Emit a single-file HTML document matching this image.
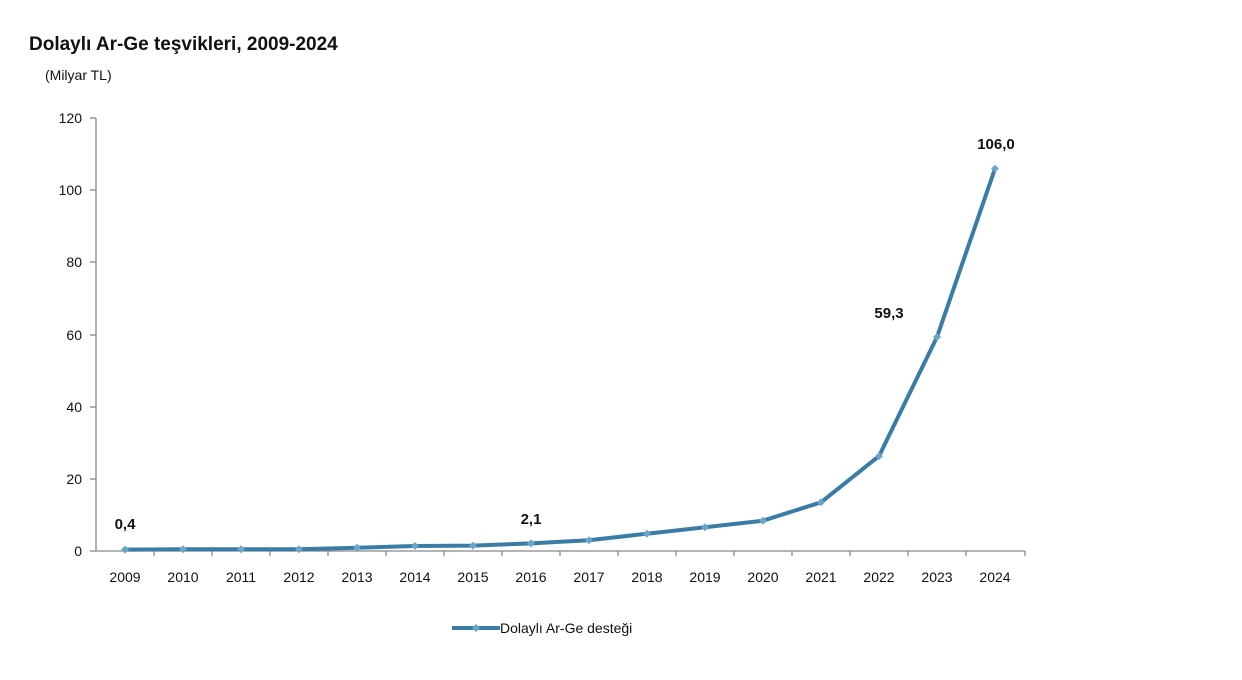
<!DOCTYPE html>
<html><head><meta charset="utf-8"><style>
body{margin:0;background:#fff;}
svg text{font-family:"Liberation Sans",Arial,sans-serif;fill:#111;}
</style></head><body>
<svg width="1242" height="675" viewBox="0 0 1242 675" xmlns="http://www.w3.org/2000/svg">
<rect width="1242" height="675" fill="#fff"/>
<text x="29" y="50" font-size="19" font-weight="bold" fill="#1a1a1a">Dolaylı Ar-Ge teşvikleri, 2009-2024</text>
<text x="45" y="80" font-size="14">(Milyar TL)</text>
<g stroke="#888" stroke-width="1.3" fill="none">
<line x1="96" y1="118" x2="96" y2="551"/>
<line x1="96" y1="551" x2="1025" y2="551"/>
<line x1="90" y1="118" x2="96" y2="118"/><line x1="90" y1="190" x2="96" y2="190"/>
<line x1="90" y1="262" x2="96" y2="262"/><line x1="90" y1="335" x2="96" y2="335"/>
<line x1="90" y1="407" x2="96" y2="407"/><line x1="90" y1="479" x2="96" y2="479"/>
<line x1="90" y1="551" x2="96" y2="551"/>
<path d="M154 551v5M212 551v5M270 551v5M328 551v5M386 551v5M444 551v5M502 551v5M560 551v5M618 551v5M676 551v5M734 551v5M792 551v5M850 551v5M908 551v5M966 551v5M1025 551v5"/>
</g>
<g font-size="14" text-anchor="end">
<text x="82" y="123">120</text><text x="82" y="195">100</text><text x="82" y="267">80</text>
<text x="82" y="340">60</text><text x="82" y="412">40</text><text x="82" y="484">20</text><text x="82" y="556">0</text>
</g>
<g font-size="14" text-anchor="middle">
<text x="125" y="582">2009</text><text x="183" y="582">2010</text><text x="241" y="582">2011</text><text x="299" y="582">2012</text>
<text x="357" y="582">2013</text><text x="415" y="582">2014</text><text x="473" y="582">2015</text><text x="531" y="582">2016</text>
<text x="589" y="582">2017</text><text x="647" y="582">2018</text><text x="705" y="582">2019</text><text x="763" y="582">2020</text>
<text x="821" y="582">2021</text><text x="879" y="582">2022</text><text x="937" y="582">2023</text><text x="995" y="582">2024</text>
</g>
<polyline fill="none" stroke="#3a7ca5" stroke-width="4" stroke-linejoin="round" points="125,549.6 183,549.2 241,549.2 299,549.2 357,547.8 415,546 473,545.6 531,543.4 589,540.2 647,533.7 705,527.2 763,520.7 821,502.3 879,456.1 937,337 995,168.6"/>
<g fill="#6aa6cc">
<path d="M125 545.6l4 4-4 4-4-4z"/><path d="M183 545.2l4 4-4 4-4-4z"/><path d="M241 545.2l4 4-4 4-4-4z"/><path d="M299 545.2l4 4-4 4-4-4z"/>
<path d="M357 543.8l4 4-4 4-4-4z"/><path d="M415 542l4 4-4 4-4-4z"/><path d="M473 541.6l4 4-4 4-4-4z"/><path d="M531 539.4l4 4-4 4-4-4z"/>
<path d="M589 536.2l4 4-4 4-4-4z"/><path d="M647 529.7l4 4-4 4-4-4z"/><path d="M705 523.2l4 4-4 4-4-4z"/><path d="M763 516.7l4 4-4 4-4-4z"/>
<path d="M821 498.3l4 4-4 4-4-4z"/><path d="M879 452.1l4 4-4 4-4-4z"/><path d="M937 333l4 4-4 4-4-4z"/><path d="M995 164.6l4 4-4 4-4-4z"/>
</g>
<g font-size="15" font-weight="bold" text-anchor="middle">
<text x="125" y="529">0,4</text><text x="531" y="524">2,1</text>
<text x="889" y="318">59,3</text><text x="996" y="149">106,0</text>
</g>
<line x1="452" y1="628" x2="500" y2="628" stroke="#3a7ca5" stroke-width="4"/>
<path d="M476 624l4 4-4 4-4-4z" fill="#6aa6cc"/>
<text x="500" y="633" font-size="14">Dolaylı Ar-Ge desteği</text>
</svg>
</body></html>
